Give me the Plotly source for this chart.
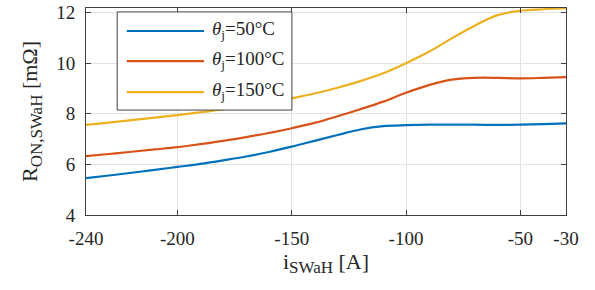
import plotly.graph_objects as go

current = [-240, -230, -220, -210, -200, -190, -180, -170, -160, -150, -140, -130, -120, -110, -100, -90, -80, -70, -60, -50, -40, -30]
r_50 = [5.46, 5.56, 5.67, 5.78, 5.90, 6.02, 6.16, 6.31, 6.49, 6.70, 6.93, 7.16, 7.38, 7.51, 7.55, 7.57, 7.57, 7.57, 7.56, 7.57, 7.59, 7.62]
r_100 = [6.33, 6.41, 6.50, 6.59, 6.68, 6.80, 6.93, 7.08, 7.24, 7.43, 7.64, 7.90, 8.18, 8.48, 8.83, 9.13, 9.35, 9.42, 9.42, 9.40, 9.42, 9.45]
r_150 = [7.56, 7.65, 7.75, 7.85, 7.95, 8.06, 8.17, 8.30, 8.44, 8.61, 8.80, 9.03, 9.29, 9.60, 10.00, 10.45, 10.98, 11.48, 11.90, 12.07, 12.13, 12.17]

names = ["<i>θ</i><sub>j</sub>=50°C", "<i>θ</i><sub>j</sub>=100°C", "<i>θ</i><sub>j</sub>=150°C"]
colors = ["#0072BD", "#D95319", "#EDB120"]
x_ticks = [-240, -200, -150, -100, -50, -30]
y_ticks = [4, 6, 8, 10, 12]

SERIF = "Liberation Serif, Times New Roman, serif"
TXT = "#262626"
AX = "#404040"

fig = go.Figure()
for ys, n, c in zip([r_50, r_100, r_150], names, colors):
    fig.add_trace(go.Scatter(x=current, y=ys, mode="lines", name=n, showlegend=False,
                             line=dict(color=c, width=2.2, shape="spline", smoothing=1.0)))

# Custom legend (MATLAB style, long line samples)
leg_x0, leg_x1, leg_y0, leg_y1 = 0.065, 0.429, 0.507, 0.981
line_x0, line_x1, text_x = 0.085, 0.246, 0.258
row_y = [0.889, 0.743, 0.594]
shapes = [dict(type="rect", xref="paper", yref="paper", x0=leg_x0, x1=leg_x1, y0=leg_y0, y1=leg_y1,
               line=dict(color=AX, width=1), fillcolor="white", layer="above")]
annotations = []
for n, c, yy in zip(names, colors, row_y):
    shapes.append(dict(type="line", xref="paper", yref="paper", x0=line_x0, x1=line_x1, y0=yy, y1=yy,
                       line=dict(color=c, width=2.2), layer="above"))
    annotations.append(dict(xref="paper", yref="paper", x=text_x, y=yy + 0.005, xanchor="left", yanchor="middle",
                            text=n, showarrow=False, font=dict(family=SERIF, size=19, color=TXT)))

font = dict(family=SERIF, size=19, color=TXT)
axis_common = dict(showline=True, linecolor=AX, linewidth=1, mirror="ticks",
                   ticks="inside", ticklen=5, tickcolor=AX,
                   showgrid=True, gridcolor="#e3e3e3", gridwidth=1, zeroline=False,
                   tickfont=font, automargin=False)
fig.update_layout(
    width=595, height=290,
    margin=dict(l=86, r=29, t=8, b=75),
    paper_bgcolor="white", plot_bgcolor="white",
    font=font,
    shapes=shapes, annotations=annotations,
    xaxis=dict(range=[-240, -30], tickvals=x_ticks, ticktext=[str(v) for v in x_ticks],
               ticklabelstandoff=6,
               title=dict(text="i<sub><span style='font-size:17px'>SWaH</span></sub> [A]",
                          font=dict(size=22, family=SERIF, color=TXT), standoff=2),
               **axis_common),
    yaxis=dict(range=[4, 12.18], tickvals=y_ticks, ticktext=[str(v) for v in y_ticks],
               ticklabelstandoff=6,
               title=dict(text="R<sub><span style='font-size:17px'>ON,SWaH</span></sub> [mΩ]",
                          font=dict(size=22, family=SERIF, color=TXT), standoff=12),
               **axis_common),
)
fig.write_html("out.html", config={"displayModeBar": False},
               post_script="document.body.style.margin='0';document.body.style.padding='0';")
